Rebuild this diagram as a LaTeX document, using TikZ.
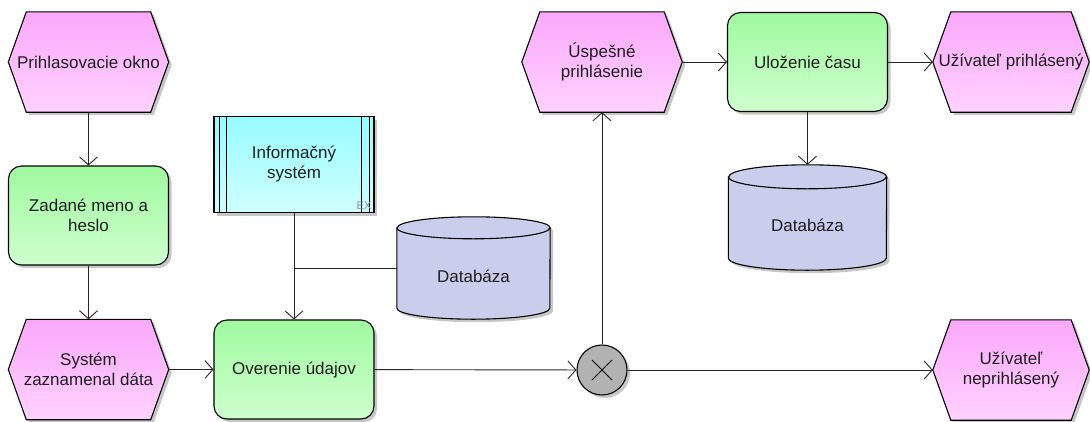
\documentclass[tikz,border=0pt]{standalone}
\usepackage{fontspec}
\setmainfont{Liberation Sans}
\usetikzlibrary{arrows.meta,shadows,backgrounds}

% colours of the EPC elements
\definecolor{evTop}{RGB}{250,168,250}
\definecolor{evBot}{RGB}{255,210,255}
\definecolor{fnTop}{RGB}{160,250,160}
\definecolor{fnBot}{RGB}{206,255,206}
\definecolor{isTop}{RGB}{150,252,255}
\definecolor{isBot}{RGB}{208,255,255}
\definecolor{dbFill}{RGB}{202,206,236}
\definecolor{xorFill}{RGB}{178,178,178}
\definecolor{inkText}{RGB}{30,30,30}

\tikzset{
  txt/.style={font=\fontsize{17}{20}\selectfont, text=inkText, align=center, inner sep=0pt},
  softshadow/.style={drop shadow={shadow xshift=3pt, shadow yshift=-3pt, fill=black, opacity=0.22}},
  border/.style={draw=black, line width=1.1pt},
  % event: invisible frame, hexagon drawn behind it
  event/.style={txt, minimum width=#1, minimum height=100pt},
  event/.default=160pt,
  hexshape/.style={border, top color=evTop, bottom color=evBot, softshadow},
  func/.style={txt, border, rounded corners=13pt, minimum width=160pt, minimum height=99pt,
    top color=fnTop, bottom color=fnBot, softshadow},
  infosys/.style={txt, border, minimum width=160pt, minimum height=96pt,
    top color=isTop, bottom color=isBot, softshadow},
  dbase/.style={txt, text height=28pt, text depth=0pt},
  cylshape/.style={border, fill=dbFill, softshadow},
  xorgate/.style={circle, border, fill=xorFill, minimum size=50pt, inner sep=0pt, softshadow,
    path picture={
      \draw[line width=1pt] ([shift={(-10pt,-10pt)}]path picture bounding box.center)
        -- ([shift={(10pt,10pt)}]path picture bounding box.center);
      \draw[line width=1pt] ([shift={(-10pt,10pt)}]path picture bounding box.center)
        -- ([shift={(10pt,-10pt)}]path picture bounding box.center);}},
  con/.style={draw=black!85, line width=0.9pt, -{Straight Barb[length=8pt,width=18pt]}},
  link/.style={draw=black!85, line width=0.9pt}
}

% hexagonal event outline around a named node
\newcommand\evhex[1]{%
  \path[hexshape] (#1.west) -- ([xshift=18pt]#1.north west) -- ([xshift=-18pt]#1.north east)
    -- (#1.east) -- ([xshift=-18pt]#1.south east) -- ([xshift=18pt]#1.south west) -- cycle;}

% database cylinder around a named node: #2 = x radius, #3 = y radius
\newcommand\dbcyl[3]{%
  \path[cylshape] ([yshift=-#3]#1.north west) -- ([yshift=#3]#1.south west)
    arc[start angle=180, end angle=360, x radius=#2, y radius=#3]
    -- ([yshift=-#3]#1.north east)
    arc[start angle=0, end angle=180, x radius=#2, y radius=#3] -- cycle;
  \draw[line width=1.1pt] ([yshift=-#3]#1.north west)
    arc[start angle=180, end angle=360, x radius=#2, y radius=#3];}

\begin{document}
\begin{tikzpicture}[x=1pt, y=-1pt]
\useasboundingbox (0,0) rectangle (1090,421);

% events
\node[event] (h1) at (88.5,62) {Prihlasovacie okno};
\node[event] (h2) at (88.5,369.5) {Systém\\zaznamenal dáta};
\node[event] (h3) at (602,62) {Úspešné\\prihlásenie};
\node[event=156pt] (h4) at (1011,62) {Užívateľ prihlásený};
\node[event=156pt] (h5) at (1011,370) {Užívateľ\\neprihlásený};
\begin{scope}[on background layer]
  \evhex{h1}\evhex{h2}\evhex{h3}\evhex{h4}\evhex{h5}
\end{scope}

% functions
\node[func] (f1) at (88.5,215.5) {Zadané meno a\\heslo};
\node[func] (f2) at (294,369.5) {Overenie údajov};
\node[func] (f3) at (807.5,62) {Uloženie času};

% information system
\node[infosys] (is) at (294,164.5) {Informačný\\systém};
\draw[line width=1.1pt] ([xshift=6pt]is.north west) -- ([xshift=6pt]is.south west)
  ([xshift=13pt]is.north west) -- ([xshift=13pt]is.south west)
  ([xshift=-13pt]is.north east) -- ([xshift=-13pt]is.south east)
  ([xshift=-5pt]is.north east) -- ([xshift=-5pt]is.south east);
\node[font=\fontsize{11}{11}\selectfont, text=black!45, anchor=south east, inner sep=0pt]
  (isex) at ([shift={(-3pt,3pt)}]is.south east) {EX};

% databases
\node[dbase, minimum width=153pt, minimum height=102pt] (db1) at (473.5,268) {Databáza};
\node[dbase, minimum width=158pt, minimum height=105pt] (db2) at (807.5,217.5) {Databáza};
\begin{scope}[on background layer]
  \dbcyl{db1}{76.5pt}{11pt}
  \dbcyl{db2}{79pt}{12pt}
\end{scope}

% XOR connector
\node[xorgate] (x1) at (602,370) {};

% control flow
\draw[con] (h1) -- (f1);
\draw[con] (f1) -- (h2);
\draw[con] (h2) -- (f2);
\draw[con] (is) -- (f2);
\draw[link] (db1.west) -- (db1.west -| is.south);
\draw[con] (f2) -- (x1);
\draw[con] (x1) -- (h3);
\draw[con] (x1) -- (h5);
\draw[con] (h3) -- (f3);
\draw[con] (f3) -- (h4);
\draw[con] (f3) -- (db2);
\end{tikzpicture}
\end{document}
